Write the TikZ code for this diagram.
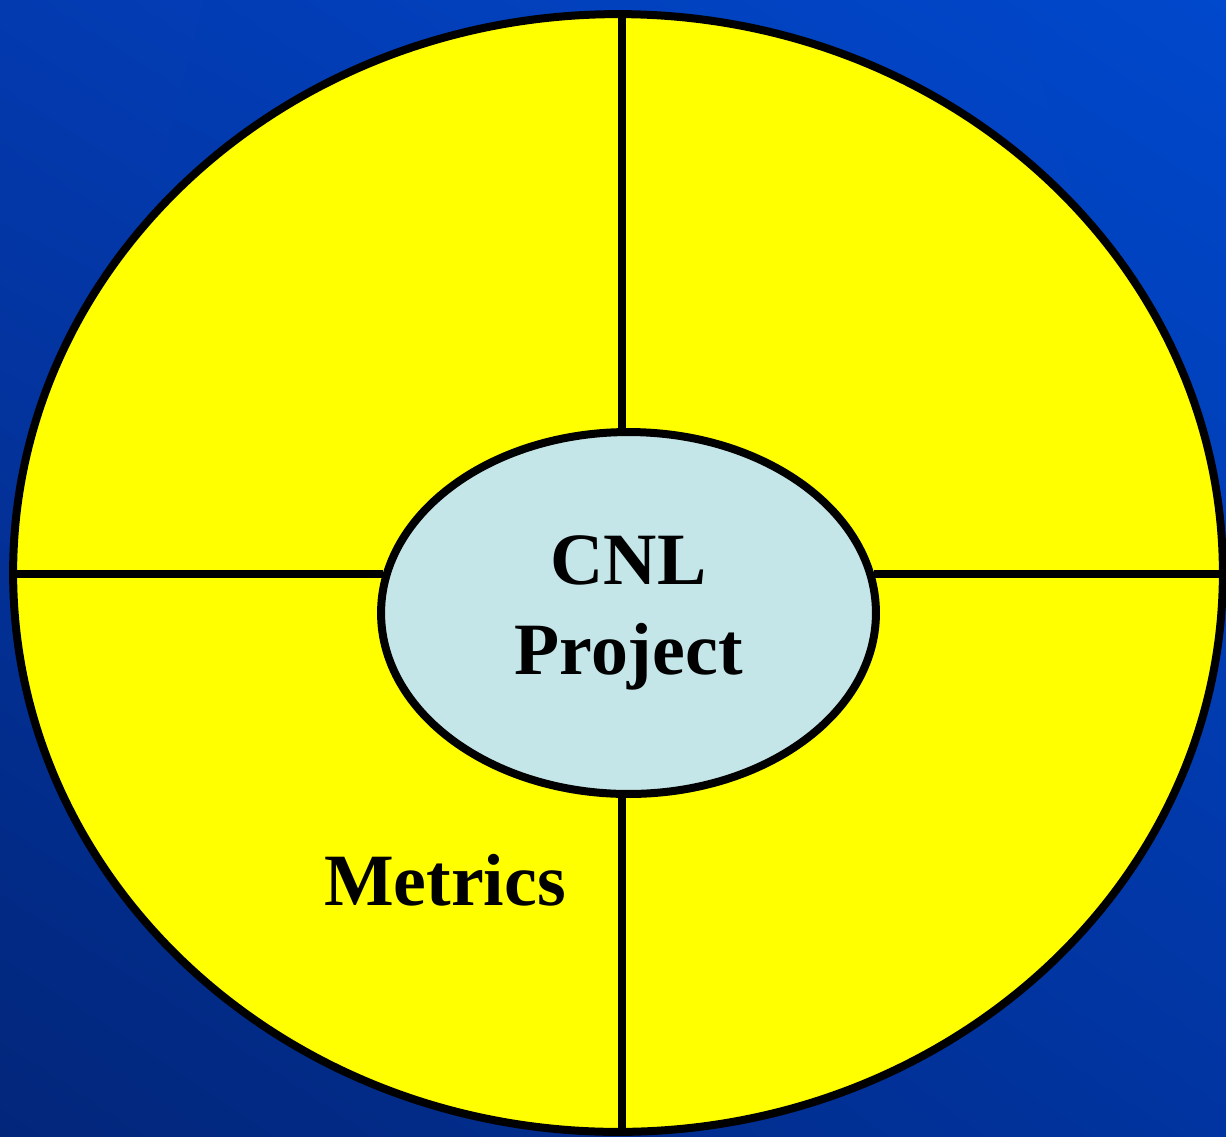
\documentclass[tikz,border=0pt]{standalone}
\usepackage{fontspec}
\setmainfont{Liberation Serif}
\usetikzlibrary{shapes.geometric, shadings}

\definecolor{bgdark}{RGB}{2,38,122}
\definecolor{bglight}{RGB}{0,72,204}
\definecolor{bgmidA}{RGB}{3,58,176}
\definecolor{bgmidB}{RGB}{1,52,160}
\definecolor{hubblue}{RGB}{196,230,232}
\definecolor{ringyellow}{RGB}{255,255,0}

\begin{document}
\begin{tikzpicture}[x=0.02cm, y=-0.02cm,
    ring/.style={ellipse, draw=black, line width=0.16cm, fill=ringyellow, inner sep=0pt},
    hub/.style={ellipse, draw=black, line width=0.16cm, fill=hubblue, inner sep=0pt, align=center,
        font=\fontsize{42}{51}\selectfont\bfseries},
    spoke/.style={draw=black, line width=0.16cm},
    tag/.style={font=\fontsize{42}{48}\selectfont\bfseries}]
                        \useasboundingbox (0,0) rectangle (1226,1136);
                        \shade[lower left=bgdark, upper right=bglight, upper left=bgmidA, lower right=bgmidB]
                            (0,0) rectangle (1226,1136);
                        \node[ring, minimum width=24.2cm, minimum height=22.36cm] (wheel) at (618,573) {};
                        \node[hub, minimum width=9.9cm, minimum height=7.24cm] (core) at (628.5,613) {CNL\\Project};
                        % spokes
                        \draw[spoke] ([xshift=-0.13cm]core.north) -- ([xshift=-0.13cm]core.north |- wheel.north);
                        \draw[spoke] ([xshift=-0.13cm]core.south) -- ([xshift=-0.13cm]core.south |- wheel.south);
                        \draw[spoke] (core.171) -- (core.171 -| wheel.west);
                        \draw[spoke] (core.9) -- (core.9 -| wheel.east);
                        \node[tag, anchor=base] (metrics) at (445,905) {Metrics};
                    \end{tikzpicture}
\end{document}
